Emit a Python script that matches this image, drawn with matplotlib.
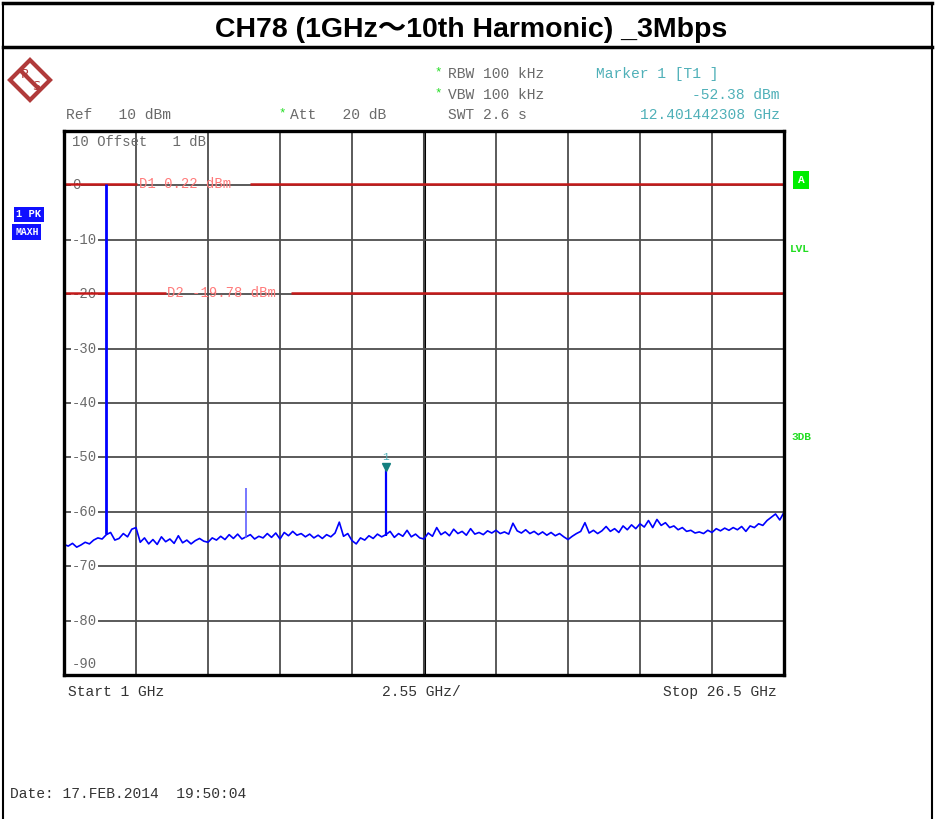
import matplotlib
matplotlib.use("Agg")
import matplotlib.pyplot as plt
import numpy as np
from matplotlib.lines import Line2D
from matplotlib.patches import Polygon

# --- chart data -------------------------------------------------------------
title = "CH78 (1GHz\uff5e10th Harmonic) _3Mbps"
start_ghz = 1.0
stop_ghz = 26.5
ghz_per_div = 2.55
ref_dbm = 10
bottom_dbm = -90

# max-hold trace, evenly spaced from start to stop
trace_dbm = [
    -66.0, -66.3, -65.8, -66.5, -66.1, -65.6, -65.9, -65.2, -64.8, -65.0,
    -64.2, -63.8, -65.2, -64.9, -64.0, -64.6, -63.2, -62.9, -65.6, -64.8,
    -65.9, -65.1, -66.0, -64.6, -65.5, -65.0, -65.8, -64.4, -65.7, -65.2,
    -65.9, -65.3, -64.9, -65.4, -65.6, -64.8, -65.2, -64.5, -65.1, -64.2,
    -64.9, -64.1, -65.0, -64.6, -64.2, -65.0, -64.5, -64.8, -64.0, -64.7,
    -63.9, -65.0, -63.8, -64.4, -63.6, -64.3, -64.0, -64.6, -64.1, -64.8,
    -64.3, -64.9, -64.2, -64.6, -63.9, -61.9, -64.5, -64.0, -65.3, -65.9,
    -64.8, -65.2, -64.4, -64.9, -64.1, -64.6, -64.2, -63.6, -64.7, -64.0,
    -64.5, -63.4, -64.6, -64.1, -64.8, -65.0, -63.9, -64.5, -62.9, -64.2,
    -63.7, -64.4, -63.2, -64.0, -63.6, -64.3, -63.1, -64.1, -63.8, -64.2,
    -63.5, -63.9, -63.4, -64.0, -63.7, -64.1, -62.1, -63.5, -63.9, -63.3,
    -64.0, -63.6, -64.2, -63.7, -64.3, -63.8, -64.4, -64.0, -64.6, -65.1,
    -64.5, -64.0, -63.6, -62.0, -63.9, -63.4, -64.0, -63.5, -62.7, -63.6,
    -63.1, -63.8, -62.6, -63.3, -62.4, -63.1, -62.2, -62.8, -61.6, -62.9,
    -61.4, -62.5, -62.0, -62.9, -62.6, -63.3, -62.9, -63.6, -63.4, -63.9,
    -63.7, -64.0, -63.4, -63.8, -63.1, -63.5, -63.0, -63.4, -62.9, -63.3,
    -62.7, -63.6, -62.6, -62.9, -62.2, -62.5, -61.6, -61.0, -60.4, -61.5,
    -60.1,
]

# carrier, 3rd and 5th harmonic
spike_ghz = [2.48, 7.44, 12.401442308]
spike_dbm = [0.22, -55.6, -52.38]
spike_base = [-64.0, -64.8, -64.4]

d1_dbm = 0.22
d2_dbm = -19.78
marker_ghz = 12.401442308
marker_dbm = -52.38

# --- figure -----------------------------------------------------------------
W, H = 935, 819
fig = plt.figure(figsize=(W / 100, H / 100), dpi=100)
fig.patch.set_facecolor("white")


def fx(x):
    return x / W


def fy(y):
    return 1 - y / H


mono = "Liberation Mono"
grey = "#6a6a6a"
teal = "#4fb0b8"
green = "#22dd22"

# outer frame and title row
for xs, ys, lw in [([3, 932], [3, 3], 2.5), ([3, 932], [47, 47], 2.5),
                   ([3, 3], [3, 819], 1.5), ([932, 932], [3, 819], 1.5)]:
    fig.add_artist(Line2D([fx(x) for x in xs], [fy(y) for y in ys], color="black", lw=lw))
fig.text(fx(471), fy(30), title, ha="center", va="center", fontsize=20.5, fontweight="bold",
         family=["Liberation Sans", "Noto Sans CJK SC", "DejaVu Sans"])

ax = fig.add_axes([fx(64), fy(675), fx(784) - fx(64), fy(131) - fy(675)])
ax.set_xlim(start_ghz, stop_ghz)
ax.set_ylim(bottom_dbm, ref_dbm)
ax.set_xticks(start_ghz + ghz_per_div * np.arange(11))
ax.set_yticks(np.arange(bottom_dbm, ref_dbm + 1, 10))
ax.tick_params(length=0, labelleft=False, labelbottom=False)
ax.grid(color="#4d4d4d", lw=1.3, zorder=1)
ax.axvline(start_ghz + 5 * ghz_per_div, color="black", lw=2.2, zorder=1.5)
for s in ax.spines.values():
    s.set_linewidth(2.4)
    s.set_zorder(6)

# y labels sit on the grid lines
lab_x = start_ghz + 0.28
for v in range(0, bottom_dbm, -10):
    ax.text(lab_x, v, str(v), family=mono, fontsize=10, color=grey, va="center", ha="left",
            zorder=2, bbox=dict(facecolor="white", edgecolor="none", pad=0.6))
ax.text(lab_x, bottom_dbm + 2, str(bottom_dbm), family=mono, fontsize=10, color=grey,
        va="center", ha="left")
ax.text(lab_x, ref_dbm - 2, "10 Offset   1 dB", family=mono, fontsize=10, color=grey,
        va="center", ha="left")

# display lines D1 / D2 with a gap for their label
for lvl, gap, lab in [(d1_dbm, (3.58, 7.6), "D1 0.22 dBm"), (d2_dbm, (4.6, 9.05), "D2 -19.78 dBm")]:
    ax.hlines([lvl, lvl], [start_ghz, gap[1]], [gap[0], stop_ghz], color="#c41a1a", lw=1.8, zorder=3)
    ax.text(gap[0] + 0.06, lvl, lab, family=mono, fontsize=10, color="#ff7a7a",
            va="center", ha="left", zorder=3)

freqs = np.linspace(start_ghz, stop_ghz, len(trace_dbm))
ax.plot(freqs, trace_dbm, color="#0000ff", lw=1.2, zorder=4)
ax.vlines(spike_ghz, spike_base, spike_dbm, colors=["#0000ff", "#6060ff", "#0000ff"],
          lw=[2.0, 1.2, 1.6], zorder=4)
ax.plot(marker_ghz, marker_dbm + 0.7, marker="v", ms=6, color="#138080", zorder=5)
ax.text(marker_ghz, marker_dbm + 2.4, "1", family=mono, fontsize=8, color=teal,
        ha="center", va="center", zorder=5)

# header readouts
hdr = dict(family=mono, fontsize=10.5, color=grey, va="center")
fig.text(fx(448), fy(74), "RBW 100 kHz", **hdr)
fig.text(fx(448), fy(95), "VBW 100 kHz", **hdr)
fig.text(fx(448), fy(115), "SWT 2.6 s", **hdr)
fig.text(fx(66), fy(115), "Ref   10 dBm", **hdr)
fig.text(fx(290), fy(115), "Att   20 dB", **hdr)
for x, y in [(438, 72), (438, 93), (282, 113)]:
    fig.text(fx(x), fy(y), "*", family=mono, fontsize=9, color=green, ha="center", va="center")
fig.text(fx(596), fy(74), "Marker 1 [T1 ]", family=mono, fontsize=10.5, color=teal, va="center")
fig.text(fx(780), fy(95), "%.2f dBm" % marker_dbm, family=mono, fontsize=10.5, color=teal,
         va="center", ha="right")
fig.text(fx(780), fy(115), "%.9f GHz" % marker_ghz, family=mono, fontsize=10.5, color=teal,
         va="center", ha="right")

# trace / limit badges
fig.text(fx(16), fy(214), "1 PK", family=mono, fontsize=7.5, fontweight="bold", color="white",
         va="center", bbox=dict(facecolor="#1010ff", edgecolor="none", pad=1.8))
fig.text(fx(15), fy(232), "MAXH", family=mono, fontsize=7, fontweight="bold", color="white",
         va="center", bbox=dict(facecolor="#1010ff", edgecolor="none", pad=1.8))
fig.text(fx(801), fy(180), "A", family=mono, fontsize=8, fontweight="bold", color="white",
         va="center", ha="center", bbox=dict(facecolor="#00ee00", edgecolor="none", pad=3))
fig.text(fx(790), fy(249), "LVL", family=mono, fontsize=8, fontweight="bold", color=green, va="center")
fig.text(fx(791), fy(437), "3DB", family=mono, fontsize=8, fontweight="bold", color=green, va="center")

# x readouts and date
low = dict(family=mono, fontsize=10.5, color="#333333", va="center")
fig.text(fx(68), fy(692), "Start 1 GHz", **low)
fig.text(fx(382), fy(692), "%.2f GHz/" % ghz_per_div, **low)
fig.text(fx(777), fy(692), "Stop %.1f GHz" % stop_ghz, ha="right", **low)
fig.text(fx(10), fy(794), "Date: 17.FEB.2014  19:50:04", **low)

# R&S logo
cx, cy, r = 30, 80, 20
logo_red = "#b03a3a"
fig.add_artist(Polygon([(fx(cx), fy(cy - r)), (fx(cx + r), fy(cy)), (fx(cx), fy(cy + r)),
                        (fx(cx - r), fy(cy))], closed=True, fill=False, ec=logo_red, lw=3))
fig.add_artist(Line2D([fx(cx - 9), fx(cx + 9)], [fy(cy - 9), fy(cy + 9)], color=logo_red, lw=3))
fig.text(fx(cx - 5), fy(cy - 6), "R", fontsize=9, color=logo_red, ha="center", va="center")
fig.text(fx(cx + 6), fy(cy + 6), "S", fontsize=9, color=logo_red, ha="center", va="center")

fig.savefig("out.png", dpi=100, facecolor="white")
